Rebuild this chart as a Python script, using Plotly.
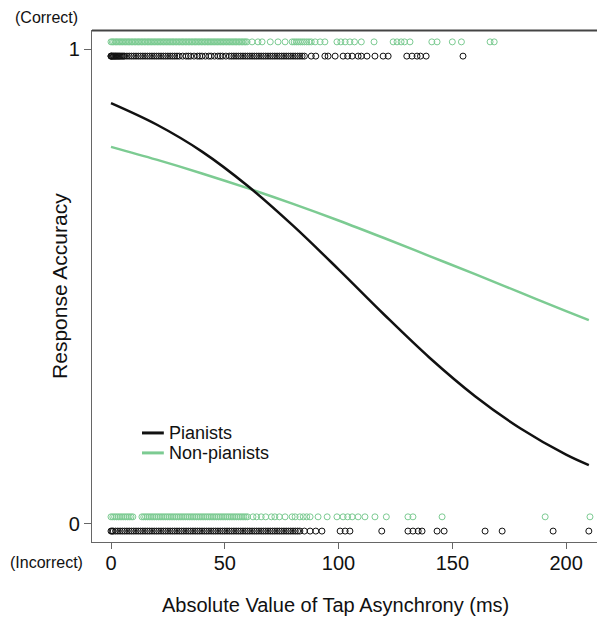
import plotly.graph_objects as go

# ---------------- data ----------------
# Absolute tap asynchrony (ms) of individual trials
pianists_correct_ms = [0, 0, 0.3, 0.6, 1, 1.3, 1.7, 2, 2.4, 2.8, 3.2, 3.6, 4, 4.5, 5, 5.5, 6, 7, 8, 9,
                       10, 11, 12, 13, 14, 15, 16, 17, 18, 19, 20, 21, 22, 23, 24, 25, 26, 27, 28, 29,
                       30, 31.5, 33, 34, 35, 36.5, 38, 39, 40, 41.5, 43, 44, 45.5, 47, 48, 49, 50.5, 52,
                       53, 54, 55, 56, 57, 58, 59, 60, 61, 62, 63, 64, 65, 66, 67, 68, 69, 70, 71, 72,
                       73, 74, 75, 76, 77, 78, 79, 80, 81, 82, 83, 84, 85,
                       88, 90, 94, 95.4, 98.5, 102, 104, 106, 108.6, 110, 112.5, 116, 119.6, 121.8,
                       130, 132.3, 134.5, 136, 138.5, 154.7]
pianists_incorrect_ms = [0, 0.5, 1, 2, 3, 4, 5, 6, 7, 8, 9, 10, 11, 12, 13, 14, 15, 16, 17, 18, 19, 20,
                         21, 22, 23, 24, 25, 26, 27, 28, 29, 30, 31, 32, 33, 34, 35, 36, 37, 38, 39, 40,
                         41, 42, 43, 44, 45, 46, 47, 48, 49, 50, 51, 52, 53, 54, 55, 56, 57, 58, 59, 60,
                         61, 62, 63, 64, 65, 66, 67, 68, 69, 70, 71, 72, 73, 74, 75, 76, 77, 78, 79, 80,
                         81, 82, 83,
                         85, 87.5, 90, 92.7, 100.7, 102.9, 105, 119, 130.5, 132.7, 135, 136.7, 143.3,
                         146.4, 164.4, 171.9, 194.3, 210]
nonpianists_correct_ms = [0, 0.6, 1.2, 1.9, 2.5, 3.1, 3.8, 4.4, 5, 5.7, 6.3, 7, 7.6, 8.2, 8.9, 9.5, 10.2,
                          10.8, 11.5, 12.1, 12.7, 13.4, 14, 14.7, 15.3, 16, 16.6, 17.2, 17.9, 18.5, 19.2,
                          19.8, 20.5, 21.1, 21.7, 22.4, 23, 23.7, 24.3, 25, 25.6, 26.3, 26.9, 27.5, 28.2,
                          28.8, 29.5, 30.1, 30.8, 31.4, 32, 32.7, 33.3, 34, 34.6, 35.3, 35.9, 36.6, 37.2,
                          37.8, 38.5, 39.1, 39.8, 40.4, 41.1, 41.7, 42.4, 43, 43.6, 44.3, 44.9, 45.6, 46.2,
                          46.9, 47.5, 48.2, 48.8, 49.4, 50.1, 50.7, 51.4, 52, 52.7, 53.3, 54, 54.6, 55.2,
                          55.9, 56.5, 57.2, 57.8, 58.5, 59.1, 59.8,
                          62, 64.6, 66.4, 70, 73.4, 76.5, 79.6, 80.5, 81.4, 82.3, 83.2, 84.1, 85, 86, 87,
                          88, 89.7, 91.9, 94, 99.3, 101, 102.9, 105, 107, 110, 115.6, 124, 125.7, 127.5,
                          129, 131.4, 141, 143.3, 150, 154, 166.6, 168.4]
nonpianists_incorrect_ms = [0, 0.8, 1.6, 2.4, 3.2, 4, 4.8, 5.6, 6.4, 7.2, 8, 8.8, 9.6,
                            13.6, 14.4, 15.2, 16, 16.8, 17.6, 18.4, 19.2, 20, 20.8, 21.6, 22.4, 23.2, 24,
                            24.8, 25.6, 26.4, 27.2, 28, 28.8, 29.6, 30.4, 31.2, 32, 32.8, 33.6, 34.4, 35.2,
                            36, 36.8, 37.6, 38.4, 39.2, 40, 40.8, 41.6, 42.4, 43.2, 44, 44.8, 45.6, 46.4,
                            47.2, 48, 48.8, 49.6, 50.4, 51.2, 52, 52.8, 53.6, 54.4, 55.2, 56, 56.8, 57.6,
                            58.4, 59.2, 60,
                            62.4, 64, 66, 68, 70.5, 72, 74, 76.5, 79.6, 80.9, 83, 84.5, 86, 87.5, 91, 95,
                            99.3, 102, 104, 106, 108.6, 111.6, 116, 121, 130.5, 132.7, 145.5, 190.8, 210.5]

# Fitted logistic curves
curve_ms = [0, 20, 40, 60, 80, 100, 120, 140, 160, 180, 200, 210]
pianists_fit = [0.886, 0.841, 0.784, 0.712, 0.628, 0.536, 0.441, 0.350, 0.269, 0.201, 0.146, 0.124]
nonpianists_fit = [0.794, 0.767, 0.738, 0.707, 0.674, 0.639, 0.602, 0.564, 0.526, 0.487, 0.448, 0.429]

x_ticks = [0, 50, 100, 150, 200]
y_ticks = [0, 1]
y_tick_labels = ["0", "1"]

# ---------------- styling ----------------
BLACK = "#111111"
GREEN = "#7ccb92"
FONT = "Arial, Liberation Sans, Helvetica, sans-serif"
OFF_P = -0.015   # vertical offset so the two groups do not overlap
OFF_N = 0.015
PAGE = 8         # default body margin of the html page

fig = go.Figure()

def pts(xs, outcome, off, color):
    fig.add_trace(go.Scatter(
        x=xs, y=[outcome + off] * len(xs), mode="markers",
        marker=dict(symbol="circle-open", size=6, color=color, line=dict(width=1, color=color)),
        showlegend=False, hoverinfo="x"))

pts(nonpianists_correct_ms, 1, OFF_N, GREEN)
pts(nonpianists_incorrect_ms, 0, OFF_N, GREEN)
pts(pianists_correct_ms, 1, OFF_P, BLACK)
pts(pianists_incorrect_ms, 0, OFF_P, BLACK)

fig.add_trace(go.Scatter(x=curve_ms, y=nonpianists_fit, mode="lines", name="Non-pianists",
                         line=dict(color=GREEN, width=2.5, shape="spline"), showlegend=False))
fig.add_trace(go.Scatter(x=curve_ms, y=pianists_fit, mode="lines", name="Pianists",
                         line=dict(color=BLACK, width=2.5, shape="spline"), showlegend=False))

# top border of the plotting box
fig.add_shape(type="line", xref="paper", yref="paper", x0=0, x1=1, y0=0.999, y1=0.999,
              layer="above", line=dict(color="#444", width=2))

# manual legend
for yy, col, label in [(0.213, BLACK, "Pianists"), (0.174, GREEN, "Non-pianists")]:
    fig.add_shape(type="line", xref="paper", yref="paper", x0=0.0975, x1=0.140, y0=yy, y1=yy,
                  line=dict(color=col, width=3))
    fig.add_annotation(xref="paper", yref="paper", x=0.146, y=yy, text=label, showarrow=False,
                       xanchor="left", yanchor="middle", font=dict(family=FONT, size=18, color="#111"))

fig.add_annotation(xref="paper", yref="paper", x=-0.088, y=1.025, text="(Correct)", showarrow=False,
                   xanchor="center", yanchor="middle", font=dict(family=FONT, size=16, color="#111"))
fig.add_annotation(xref="paper", yref="paper", x=-0.088, y=-0.04, text="(Incorrect)", showarrow=False,
                   xanchor="center", yanchor="middle", font=dict(family=FONT, size=16, color="#111"))
fig.add_annotation(xref="paper", yref="paper", x=0.474, y=-0.123,
                   text="Absolute Value of Tap Asynchrony (ms)", showarrow=False,
                   xanchor="center", yanchor="middle", font=dict(family=FONT, size=20, color="#111"))
fig.add_annotation(xref="paper", yref="paper", x=-0.0644, y=0.5, text="Response Accuracy",
                   textangle=-90, showarrow=False, xanchor="center", yanchor="middle",
                   font=dict(family=FONT, size=21, color="#111"))

fig.update_layout(
    width=605 - PAGE, height=617 - PAGE,
    margin=dict(l=92 - PAGE, r=0, t=30 - PAGE, b=75),
    paper_bgcolor="white", plot_bgcolor="white",
    font=dict(family=FONT, color="#111"),
    xaxis=dict(range=[-8.35, 217.1], tickvals=x_ticks, ticks="outside", ticklen=6,
               tickcolor="#666", showline=True, linecolor="#666", linewidth=1.3,
               showgrid=False, zeroline=False, ticklabelstandoff=-3,
               tickfont=dict(size=20, family=FONT, color="#111")),
    yaxis=dict(range=[-0.038, 1.04], tickvals=y_ticks, ticktext=y_tick_labels, ticks="outside",
               ticklen=7, tickcolor="#666", showline=True, linecolor="#666", linewidth=1.3,
               showgrid=False, zeroline=False, tickfont=dict(size=20, family=FONT, color="#111")),
)

fig.write_html("out.html")
